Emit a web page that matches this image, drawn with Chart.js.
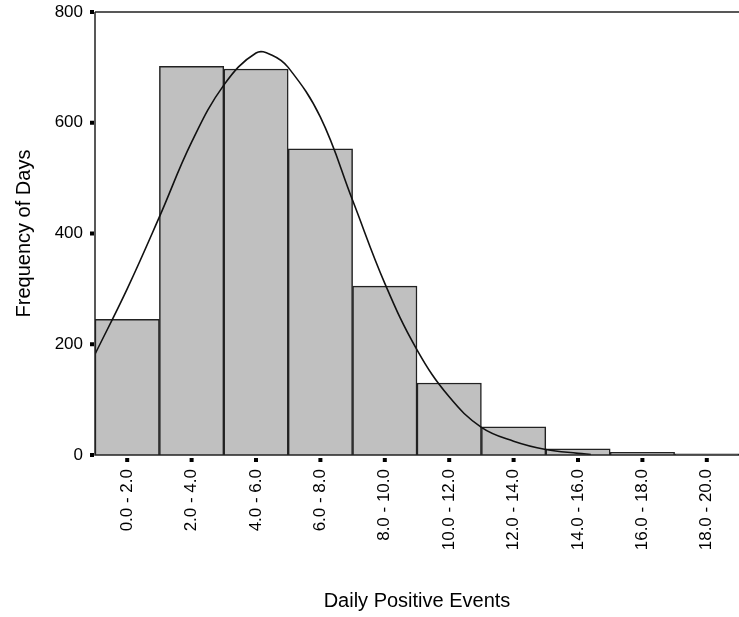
<!DOCTYPE html>
<html>
<head>
<meta charset="utf-8">
<script src="https://cdn.jsdelivr.net/npm/chart.js@4"></script>
<style>
  html, body { margin: 0; padding: 0; background: #fff; }
  #wrap { width: 739px; height: 617px; }
</style>
</head>
<body>
<div id="wrap"><canvas id="myChart"></canvas></div>
<script>
// histogram bins
const bins = ['0.0 - 2.0', '2.0 - 4.0', '4.0 - 6.0', '6.0 - 8.0', '8.0 - 10.0',
  '10.0 - 12.0', '12.0 - 14.0', '14.0 - 16.0', '16.0 - 18.0', '18.0 - 20.0']
const freq = [245, 702, 697, 553, 305, 130, 51, 11, 5, 2]

// fitted curve (x in events, y in days)
const curveX = [0, 1, 2, 3, 4, 5, 5.5, 6, 7, 8, 9, 10, 11, 12, 13, 14, 15, 15.4]
const curveY = [182, 300, 430, 565, 668, 726, 722, 700, 610, 460, 310, 190, 105, 50, 25, 10, 3, 1]

const yTicks = [0, 200, 400, 600, 800]

const font = 'Liberation Sans, Arial, sans-serif'

const frame = {
  id: 'frame',
  afterDraw(chart) {
    const ctx = chart.ctx
    const a = chart.chartArea
    const x = chart.scales.x, y = chart.scales.y
    ctx.save()
    ctx.strokeStyle = '#222'
    ctx.lineWidth = 1.5
    ctx.beginPath()
    ctx.moveTo(a.left, a.top)
    ctx.lineTo(a.right, a.top)
    ctx.moveTo(a.left, a.top)
    ctx.lineTo(a.left, a.bottom)
    ctx.lineTo(a.right, a.bottom)
    ctx.stroke()
    ctx.fillStyle = '#000'
    yTicks.forEach(v => {
      const py = y.getPixelForValue(v)
      ctx.fillRect(a.left - 5, py - 2, 4, 4)
    })
    bins.forEach((b, i) => {
      const px = x.getPixelForValue(i)
      ctx.fillRect(px - 2, a.bottom + 3, 4, 4)
    })
    ctx.restore()
  }
}

new Chart(document.getElementById('myChart'), {
  type: 'bar',
  data: {
    labels: bins,
    datasets: [{
      type: 'line',
      data: curveX.map((v, i) => ({ x: v, y: curveY[i] })),
      xAxisID: 'x2',
      borderColor: '#111',
      borderWidth: 1.6,
      pointRadius: 0,
      tension: 0.4,
      fill: false
    }, {
      data: freq,
      backgroundColor: '#c0c0c0',
      borderColor: '#222',
      borderWidth: 1.5,
      barPercentage: 1,
      categoryPercentage: 1,
      grouped: false
    }]
  },
  options: {
    responsive: true,
    maintainAspectRatio: false,
    animation: false,
    layout: { padding: { top: 12, right: 0, left: 0, bottom: 0 } },
    plugins: { legend: { display: false }, tooltip: { enabled: false } },
    scales: {
      x: {
        offset: true,
        grid: { display: false, drawTicks: false },
        border: { display: false },
        ticks: {
          color: '#000',
          font: { family: font, size: 17 },
          minRotation: 90,
          maxRotation: 90,
          padding: 14,
          autoSkip: false
        },
        title: {
          display: true,
          text: 'Daily Positive Events',
          color: '#000',
          font: { family: font, size: 20 },
          padding: { top: 4, bottom: 4 }
        },
        afterFit: s => {
          s.height = 162
          s.paddingLeft = 0
          s.paddingRight = 0
        }
      },
      x2: {
        type: 'linear',
        display: false,
        offset: false,
        min: 0,
        max: 20
      },
      y: {
        min: 0,
        max: 800,
        grid: { display: false, drawTicks: false },
        border: { display: false },
        ticks: {
          stepSize: 200,
          color: '#000',
          font: { family: font, size: 17 },
          padding: 12
        },
        title: {
          display: true,
          text: 'Frequency of Days',
          color: '#000',
          font: { family: font, size: 20 },
          padding: { top: 12, bottom: 4 }
        },
        afterFit: s => {
          s.width = 95
          s.paddingTop = 0
          s.paddingBottom = 0
        }
      }
    }
  },
  plugins: [frame]
})
</script>
</body>
</html>
